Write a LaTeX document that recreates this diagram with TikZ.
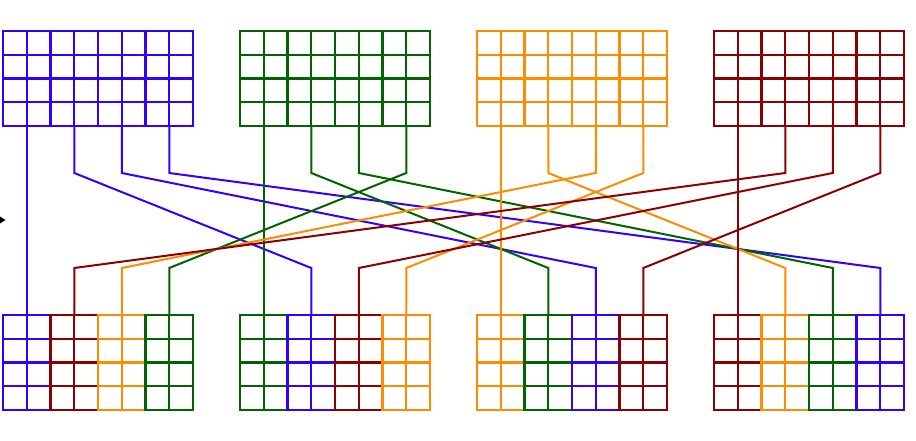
\documentclass[tikz,border=0pt]{standalone}
\definecolor{c0}{RGB}{51,0,255}
\definecolor{c1}{RGB}{0,100,0}
\definecolor{c2}{RGB}{255,140,0}
\definecolor{c3}{RGB}{139,0,0}
\tikzset{
  cell/.style={line width=2.4pt, line cap=rect},
  wire/.style={line width=2pt, line join=miter}
}
\begin{document}
\begin{tikzpicture}[x=1pt,y=-1pt]
\useasboundingbox (0,0) rectangle (916,441);
% arrow tip at the left edge
\fill[black] (0,216.5) -- (5.5,220) -- (0,223.5) -- cycle;
% connector end points
\foreach \s in {0,...,3}{
  \foreach \k in {0,...,3}{
    \coordinate (t\s\k) at ({3+237*\s+(2*\k+1)*23.75},126);
    \coordinate (b\s\k) at ({3+237*\s+(2*\k+1)*23.75},315);
  }
}
% connectors
\foreach \s in {0,...,3}{
  \foreach \k in {0,...,3}{
    \pgfmathtruncatemacro\d{mod(\s+\k,4)}
    \ifnum\k=0
      \draw[wire,c\s] (t\s\k) -- (b\d\k);
    \else
      \draw[wire,c\s] (t\s\k) -- ([yshift=-47pt]t\s\k) -- ([yshift=47pt]b\d\k) -- (b\d\k);
    \fi
  }
}
% top grids
\foreach \s in {0,...,3}{
  \pgfmathsetmacro\xo{3+237*\s}
  \foreach \i in {0,...,8}
    \draw[cell,c\s] ({\xo+\i*23.75},31) -- ({\xo+\i*23.75},126);
  \foreach \j in {0,...,4}
    \draw[cell,c\s] (\xo,{31+\j*23.75}) -- ({\xo+190},{31+\j*23.75});
}
% bottom grids
\foreach \d in {0,...,3}{
  \foreach \k in {0,...,3}{
    \pgfmathtruncatemacro\s{mod(\d-\k+4,4)}
    \pgfmathsetmacro\xo{3+237*\d+47.5*\k}
    \foreach \i in {0,...,2}
      \draw[cell,c\s] ({\xo+\i*23.75},315) -- ({\xo+\i*23.75},410);
    \foreach \j in {0,...,4}
      \draw[cell,c\s] (\xo,{315+\j*23.75}) -- ({\xo+47.5},{315+\j*23.75});
  }
}
\end{tikzpicture}
\end{document}
